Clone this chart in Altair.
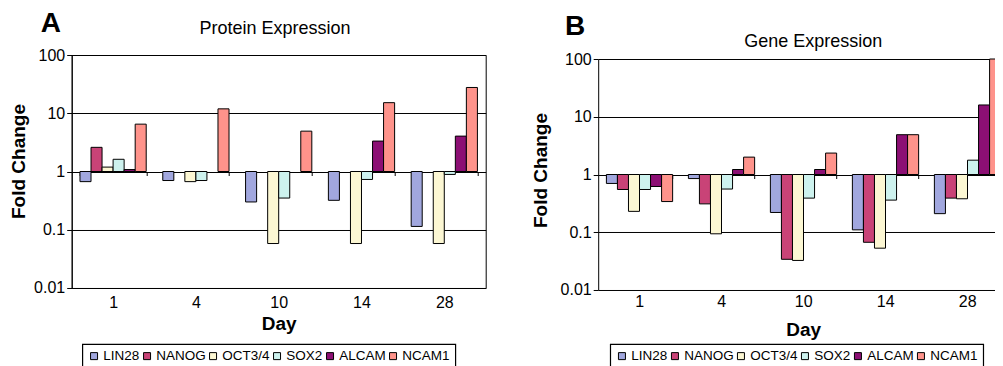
import altair as alt
import pandas as pd

days = ["1", "4", "10", "14", "28"]
genes = ["LIN28", "NANOG", "OCT3/4", "SOX2", "ALCAM", "NCAM1"]
colors = ["#a1a7de", "#c94377", "#fcf7d3", "#cdf2ee", "#8c0f74", "#fe938b"]
letters = ["A", "B"]
titles = ["Protein Expression", "Gene Expression"]
y_ticks = [0.01, 0.1, 1, 10, 100]

# Panel A: protein expression (fold change)
protein_lin28 = [0.67, 0.70, 0.30, 0.32, 0.114]
protein_nanog = [2.6, None, None, None, None]
protein_oct34 = [1.19, 0.67, 0.058, 0.058, 0.058]
protein_sox2 = [1.62, 0.70, 0.35, 0.73, 0.89]
protein_alcam = [1.08, None, None, 3.33, 4.05]
protein_ncam1 = [6.5, 11.9, 4.93, 15.2, 27.7]

# Panel B: gene expression (fold change)
gene_lin28 = [0.70, 0.85, 0.22, 0.11, 0.21]
gene_nanog = [0.55, 0.31, 0.034, 0.067, 0.39]
gene_oct34 = [0.23, 0.094, 0.0325, 0.053, 0.38]
gene_sox2 = [0.55, 0.56, 0.39, 0.36, 1.77]
gene_alcam = [0.62, 1.22, 1.22, 4.89, 16.0]
gene_ncam1 = [0.34, 2.0, 2.35, 4.89, 100.0]


def frame(series_list):
    rows = []
    for g, series in zip(genes, series_list):
        for d, v in zip(days, series):
            if v is not None:
                rows.append({"day": d, "gene": g, "value": v})
    return pd.DataFrame(rows)


df_a = frame([protein_lin28, protein_nanog, protein_oct34, protein_sox2, protein_alcam, protein_ncam1])
df_b = frame([gene_lin28, gene_nanog, gene_oct34, gene_sox2, gene_alcam, gene_ncam1])

FONT = "Liberation Sans"


def panel(df, letter, title, width, height, yrange, xrange, head_x, head_y,
          fold_x, fold_y, label_pad, day_pad, leg_x, leg_y, letter_x, letter_y,
          frame_opacity):
    y_one = (yrange[0] + yrange[1]) / 2.0
    xscale = dict(domain=days, paddingInner=0.2, paddingOuter=0.1)
    if xrange is not None:
        xscale["range"] = xrange
    bars = alt.Chart(df).mark_bar(stroke="black", strokeWidth=1, clip=True).encode(
        x=alt.X(
            "day:N", sort=days, scale=alt.Scale(**xscale),
            axis=alt.Axis(
                title="Day", orient="bottom", offset=-(height - y_one),
                tickBand="extent", ticks=True, tickSize=4, tickColor="black", tickWidth=1,
                domain=False, grid=False, labelAngle=0, labelPadding=label_pad,
                labelFontSize=16, labelColor="black", labelFont=FONT,
                titleFontSize=19, titleFontWeight="bold", titleColor="black",
                titleFont=FONT, titlePadding=day_pad,
            ),
        ),
        xOffset=alt.XOffset("gene:N", sort=genes,
                            scale=alt.Scale(domain=genes, paddingInner=0, paddingOuter=0)),
        y=alt.Y(
            "value:Q",
            scale=alt.Scale(type="log", domain=[0.01, 100], range=yrange, nice=False),
            axis=alt.Axis(
                values=y_ticks, format="~g", grid=True, gridColor="black", gridWidth=1,
                gridOpacity=1, domain=True, domainColor="black", domainWidth=1,
                ticks=True, tickSize=5, tickColor="black", tickWidth=1,
                labelFontSize=16, labelColor="black", labelFont=FONT, labelPadding=2,
                labelFlush=False, title="Fold Change", titleFontSize=19,
                titleFontWeight="bold", titleColor="black", titleFont=FONT,
                titleAngle=270, titleX=fold_x, titleY=fold_y, titleBaseline="middle",
                titleAlign="center",
            ),
        ),
        y2=alt.datum(1),
        color=alt.Color(
            "gene:N", sort=genes, scale=alt.Scale(domain=genes, range=colors),
            legend=alt.Legend(
                title=None, orient="none", legendX=leg_x, legendY=leg_y,
                direction="horizontal", symbolType="square", symbolSize=49,
                symbolStrokeColor="black", symbolStrokeWidth=1, symbolOpacity=1,
                labelFontSize=13.5, labelFont=FONT, labelColor="black", labelOffset=2.5,
                columnPadding=0,
            ),
        ),
    )
    tag = alt.Chart(pd.DataFrame({"letter": [letter]})).mark_text(
        font=FONT, fontSize=28, fontWeight="bold", align="left", baseline="alphabetic",
        color="black",
    ).encode(text="letter:N", x=alt.value(letter_x), y=alt.value(letter_y))
    head = alt.Chart(pd.DataFrame({"title": [title]})).mark_text(
        font=FONT, fontSize=18, fontWeight="normal", align="center", baseline="alphabetic",
        color="black",
    ).encode(text="title:N", x=alt.value(head_x), y=alt.value(head_y))
    return alt.layer(bars, tag, head).properties(
        width=width, height=height,
        view=alt.ViewBackground(stroke="black", strokeWidth=1, strokeOpacity=frame_opacity),
    )


pa = panel(df_a, letters[0], titles[0], 414, 233, [233, 0], None, 203.3, -21,
           -53.5, 106, 119, 4.5, 10.6, 289, -31, -22.7, 1)
pb = panel(df_b, letters[1], titles[1], 397, 235, [235, 4], [0, 410], 215, -8,
           -57.2, 115, 115, 11.5, 12, 289, -33.3, -20, 0)

chart = alt.hconcat(pa, pb, spacing=44.5).resolve_scale(color="independent").properties(
    padding={"left": 0.7, "top": 1, "right": -14, "bottom": 0}
).configure(font=FONT).configure_legend(
    strokeColor="black", strokeWidth=1.2, padding=5,
)

chart.save("out.html", embed_options={"renderer": "svg", "actions": False})
